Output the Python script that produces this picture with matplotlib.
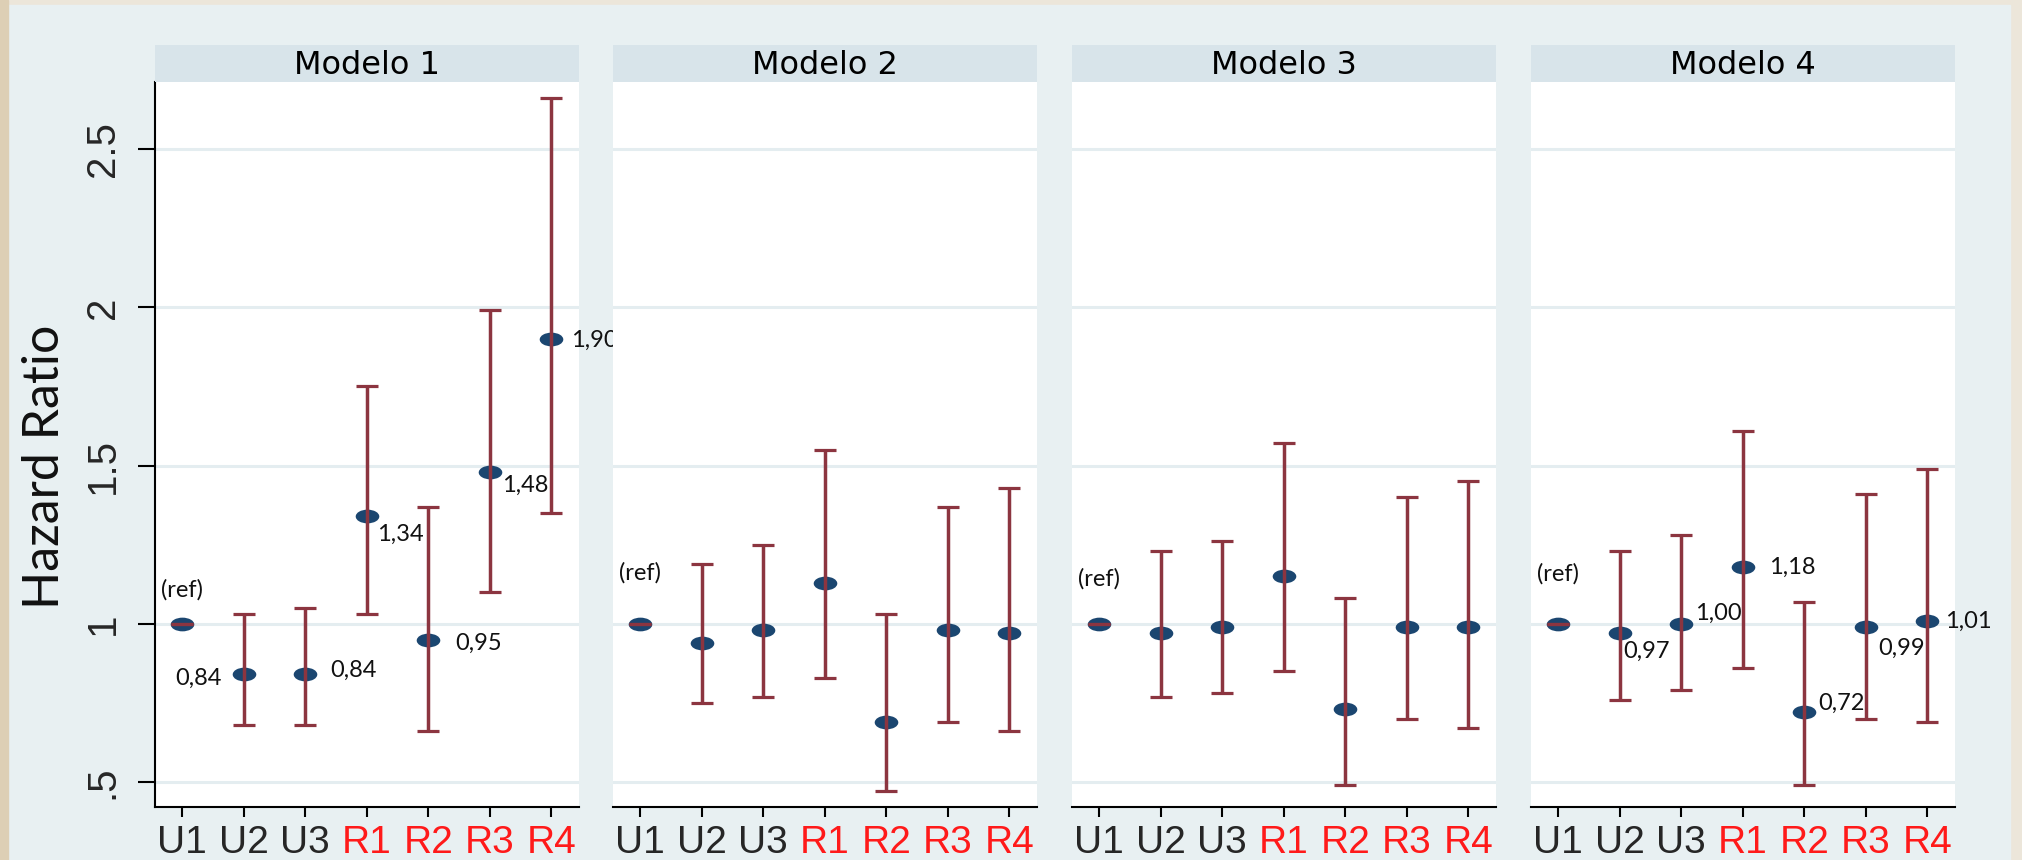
import matplotlib
matplotlib.use("Agg")
import matplotlib.pyplot as plt
from matplotlib.patches import Rectangle
from matplotlib.path import Path
from matplotlib.transforms import Affine2D
import numpy as np

# ---------------- data ----------------
categories = ["U1", "U2", "U3", "R1", "R2", "R3", "R4"]
models = ["Modelo 1", "Modelo 2", "Modelo 3", "Modelo 4"]

hr_m1 = [1.00, 0.84, 0.84, 1.34, 0.95, 1.48, 1.90]
lo_m1 = [1.00, 0.68, 0.68, 1.03, 0.66, 1.10, 1.35]
hi_m1 = [1.00, 1.03, 1.05, 1.75, 1.37, 1.99, 2.66]

hr_m2 = [1.00, 0.94, 0.98, 1.13, 0.69, 0.98, 0.97]
lo_m2 = [1.00, 0.75, 0.77, 0.83, 0.47, 0.69, 0.66]
hi_m2 = [1.00, 1.19, 1.25, 1.55, 1.03, 1.37, 1.43]

hr_m3 = [1.00, 0.97, 0.99, 1.15, 0.73, 0.99, 0.99]
lo_m3 = [1.00, 0.77, 0.78, 0.85, 0.49, 0.70, 0.67]
hi_m3 = [1.00, 1.23, 1.26, 1.57, 1.08, 1.40, 1.45]

hr_m4 = [1.00, 0.97, 1.00, 1.18, 0.72, 0.99, 1.01]
lo_m4 = [1.00, 0.76, 0.79, 0.86, 0.49, 0.70, 0.69]
hi_m4 = [1.00, 1.23, 1.28, 1.61, 1.07, 1.41, 1.49]

y_ticks = [0.5, 1.0, 1.5, 2.0, 2.5]
y_tick_labels = [".5", "1", "1.5", "2", "2.5"]
ref_label = "(ref)"
y_label = "Hazard Ratio"

# ---------------- style ----------------
W, H = 2022, 860
FIG_BG = "#ece6da"
CHART_BG = "#e8f0f2"
STRIP_BG = "#d8e4ea"
GRID_C = "#e4edf0"
ERR_C = "#8c3540"
MARK_C = "#1b4670"
RED_LAB = "#ff1a1a"
DARK_LAB = "#262626"
red_cats = {"R1", "R2", "R3", "R4"}

NARROW = ["Liberation Sans Narrow", "Liberation Sans", "DejaVu Sans"]
ROUND = ["Lato", "DejaVu Sans"]

show_values = [True, False, False, True]
# label offsets in pixels (dx, dy-down, ha) for categories 2..7
label_offsets = {
    0: [(-22, 4, "right"), (25, -4, "left"), (10, 18, "left"),
        (27, 4, "left"), (12, 13, "left"), (20, 1, "left")],
    3: [(4, 18, "left"), (14, -10, "left"), (26, 1, "left"),
        (14, -9, "left"), (12, 21, "left"), (18, 1, "left")],
}
ref_dy = [-34, -51, -45, -50]

panel_left = [155, 613, 1072, 1531]
panel_w = 424
ax_top, ax_bot = 82, 807
strip_top = 45

ellipse = Path.unit_circle().transformed(Affine2D().scale(1.0, 0.58))

fig = plt.figure(figsize=(W / 100, H / 100), dpi=100, facecolor=FIG_BG)
fig.add_artist(Rectangle((8 / W, 0), (2010 - 8) / W, (H - 5) / H,
                         transform=fig.transFigure, color=CHART_BG, zorder=-10))
fig.add_artist(Rectangle((0, 0), 8 / W, 1, transform=fig.transFigure,
                         color="#ddcfb5", zorder=-10))

all_hr = [hr_m1, hr_m2, hr_m3, hr_m4]
all_lo = [lo_m1, lo_m2, lo_m3, lo_m4]
all_hi = [hi_m1, hi_m2, hi_m3, hi_m4]

px2pt = 0.72
x = np.arange(1, len(categories) + 1)

for i, name in enumerate(models):
    l = panel_left[i]
    ax = fig.add_axes([l / W, (H - ax_bot) / H, panel_w / W, (ax_bot - ax_top) / H])
    ax.set_facecolor("white")
    hr = np.array(all_hr[i]); lo = np.array(all_lo[i]); hi = np.array(all_hi[i])

    ax.plot(x, hr, linestyle="none", marker=ellipse, markersize=17,
            color=MARK_C, markeredgewidth=0, zorder=3)
    ax.errorbar(x, hr, yerr=[hr - lo, hi - hr], fmt="none", ecolor=ERR_C,
                elinewidth=2.5, capsize=8, capthick=2.3, zorder=4)

    ax.set_xlim(0.56, 7.45)
    ax.set_ylim(0.421, 2.712)
    ax.set_yticks(y_ticks)
    ax.yaxis.grid(True, color=GRID_C, linewidth=2.2, zorder=0)
    ax.set_axisbelow(True)
    ax.set_xticks(x)
    ax.set_xticklabels(categories, family=NARROW, fontsize=28)
    for t, c in zip(ax.get_xticklabels(), categories):
        t.set_color(RED_LAB if c in red_cats else DARK_LAB)
    ax.tick_params(axis="x", length=7, width=1.5, pad=6, color="black")

    for s in ["top", "right"]:
        ax.spines[s].set_visible(False)
    ax.spines["bottom"].set_linewidth(1.5)
    ax.spines["bottom"].set_color("black")
    if i == 0:
        ax.spines["left"].set_linewidth(1.5)
        ax.spines["left"].set_color("black")
        ax.set_yticklabels(y_tick_labels, family=NARROW, fontsize=29,
                           rotation=90, va="center", color=DARK_LAB)
        ax.tick_params(axis="y", length=12, width=1.5, pad=12, color="black")
    else:
        ax.spines["left"].set_visible(False)
        ax.tick_params(axis="y", left=False, labelleft=False)

    # (ref) label
    ax.annotate(ref_label, xy=(x[0], hr[0]), xytext=(0, -ref_dy[i] * px2pt),
                textcoords="offset points", ha="center", va="center",
                family=ROUND, fontsize=17, color="#111111", zorder=5)

    if show_values[i]:
        for k, (dx, dy, ha) in enumerate(label_offsets[i]):
            j = k + 1
            txt = f"{hr[j]:.2f}".replace(".", ",")
            ax.annotate(txt, xy=(x[j], hr[j]), xytext=(dx * px2pt, -dy * px2pt),
                        textcoords="offset points", ha=ha, va="center",
                        family=ROUND, fontsize=17, color="#111111",
                        annotation_clip=False, zorder=5)

    # strip
    sax = fig.add_axes([l / W, (H - ax_top) / H, panel_w / W, (ax_top - strip_top) / H])
    sax.set_facecolor(STRIP_BG)
    sax.set_xticks([]); sax.set_yticks([])
    for s in sax.spines.values():
        s.set_visible(False)
    sax.text(0.5, 0.45, name, transform=sax.transAxes, ha="center", va="center",
             family=["DejaVu Sans"], fontsize=23, color="black")

fig.text(45 / W, 1 - 467 / H, y_label, rotation=90, ha="center", va="center",
         family=ROUND, fontweight="normal", fontsize=36, color="#111111")

fig.savefig("out.png", dpi=100, facecolor=FIG_BG)
